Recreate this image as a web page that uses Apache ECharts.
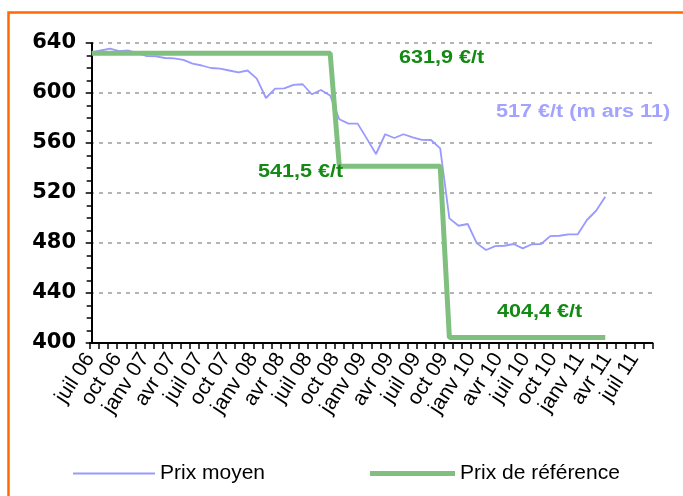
<!DOCTYPE html>
<html><head><meta charset="utf-8">
<script src="https://cdn.jsdelivr.net/npm/echarts@6/dist/echarts.min.js"></script>
<style>html,body{margin:0;padding:0;background:#fff}#c{width:683px;height:496px}</style>
</head><body><div id="c"></div>
<script>
// Month categories on the labelled axis (juil 06 .. sept 11)
const months = [
 'juil 06','août 06','sept 06','oct 06','nov 06','déc 06',
 'janv 07','févr 07','mars 07','avr 07','mai 07','juin 07','juil 07','août 07','sept 07','oct 07','nov 07','déc 07',
 'janv 08','févr 08','mars 08','avr 08','mai 08','juin 08','juil 08','août 08','sept 08','oct 08','nov 08','déc 08',
 'janv 09','févr 09','mars 09','avr 09','mai 09','juin 09','juil 09','août 09','sept 09','oct 09','nov 09','déc 09',
 'janv 10','févr 10','mars 10','avr 10','mai 10','juin 10','juil 10','août 10','sept 10','oct 10','nov 10','déc 10',
 'janv 11','févr 11','mars 11','avr 11','mai 11','juin 11','juil 11','août 11','sept 11'
];
// Prix moyen, monthly juil 06 .. mars 11 (€/t)
const prixMoyen = [
 632.5,634,635.5,633.5,634,632,629.5,629.3,628,627.7,626.5,623.5,622,620,619.5,618,616.5,618,
 611.5,596,603.5,603.7,606.5,607,599,602.4,598,579,575.5,575.5,563.5,551.2,567,564,567,564.5,
 562.5,562.4,555.7,499.7,493.8,495.2,479.7,474.4,477.5,477.8,479.2,475.7,479,479.2,485.5,485.8,
 486.9,487,498.4,505.8,517
];
// Prix de référence, monthly juil 06 .. mars 11 (€/t)
const prixReference = [
 631.9,631.9,631.9,631.9,631.9,631.9,631.9,631.9,631.9,631.9,631.9,631.9,631.9,631.9,631.9,631.9,631.9,631.9,
 631.9,631.9,631.9,631.9,631.9,631.9,631.9,631.9,631.9,
 541.5,541.5,541.5,541.5,541.5,541.5,541.5,541.5,541.5,541.5,541.5,541.5,
 404.4,404.4,404.4,404.4,404.4,404.4,404.4,404.4,404.4,404.4,404.4,404.4,404.4,404.4,404.4,404.4,404.4,404.4
];
const yTicks = [400,440,480,520,560,600,640];
const annotations = [
 {text:'631,9 €/t', x:399, y:58, color:'#138a13'},
 {text:'541,5 €/t', x:258, y:172, color:'#138a13'},
 {text:'404,4 €/t', x:497, y:312, color:'#138a13'},
 {text:'517 €/t (m ars 11)', x:496, y:112, color:'#a3a3ff'}
];
const blue = '#9999ff', green = '#7fc07f';

const chart = echarts.init(document.getElementById('c'), null, {renderer:'canvas'});
const idx = arr => arr.map((v,i)=>[i,v]);
const legendText = {fontSize:21, fontFamily:'Liberation Sans', color:'#000'};
chart.setOption({
  animation:false,
  backgroundColor:'#fff',
  grid:{left:90, right:30.5, top:43, bottom:153, containLabel:false},
  xAxis:[{
    type:'category', data:months, boundaryGap:false,
    axisLine:{show:true, lineStyle:{color:'#000', width:2}},
    axisTick:{show:true, interval:0, length:6, lineStyle:{color:'#000', width:1.5}},
    axisLabel:{interval:2, rotate:57, color:'#000', fontSize:21, fontFamily:'Liberation Sans', margin:12},
    splitLine:{show:false}
  },{
    type:'value', min:-0.185, max:61.15, show:false
  }],
  yAxis:{
    type:'value', min:yTicks[0], max:yTicks[yTicks.length-1], interval:40,
    axisLine:{show:true, lineStyle:{color:'#000', width:2}},
    axisTick:{show:true, length:6, lineStyle:{color:'#000', width:1.5}},
    minorTick:{show:true, splitNumber:4, length:5, lineStyle:{color:'#000', width:1.5}},
    axisLabel:{color:'#000', fontSize:21, fontWeight:'bold', fontFamily:'DejaVu Sans', margin:14},
    splitLine:{show:true, lineStyle:{color:'#b4b4b4', width:2, type:[4,5]}}
  },
  legend:[{
    left:68, top:458, itemWidth:82, itemHeight:2, icon:'rect', itemGap:5,
    textStyle:legendText, data:['Prix moyen']
  },{
    left:365, top:458, itemWidth:85, itemHeight:5, icon:'rect', itemGap:5,
    textStyle:legendText, data:['Prix de référence']
  }],
  series:[{
    name:'Prix moyen', type:'line', xAxisIndex:1, data:idx(prixMoyen),
    symbol:'none', lineStyle:{color:blue, width:1.8}, itemStyle:{color:blue}
  },{
    name:'Prix de référence', type:'line', xAxisIndex:1, data:idx(prixReference),
    symbol:'none', lineStyle:{color:green, width:5}, itemStyle:{color:green}
  }],
  graphic:[
    {type:'rect', z:-10, silent:true, shape:{x:8.5, y:12.5, width:700, height:500},
     style:{fill:'none', stroke:'#ff6a00', lineWidth:2.5}}
  ].concat(annotations.map(a=>({
    type:'text', x:a.x, y:a.y, scaleX:1.2, z:20,
    style:{text:a.text, x:0, y:0, verticalAlign:'middle', font:'bold 18px "Liberation Sans"', fill:a.color}
  })))
});
</script></body></html>
